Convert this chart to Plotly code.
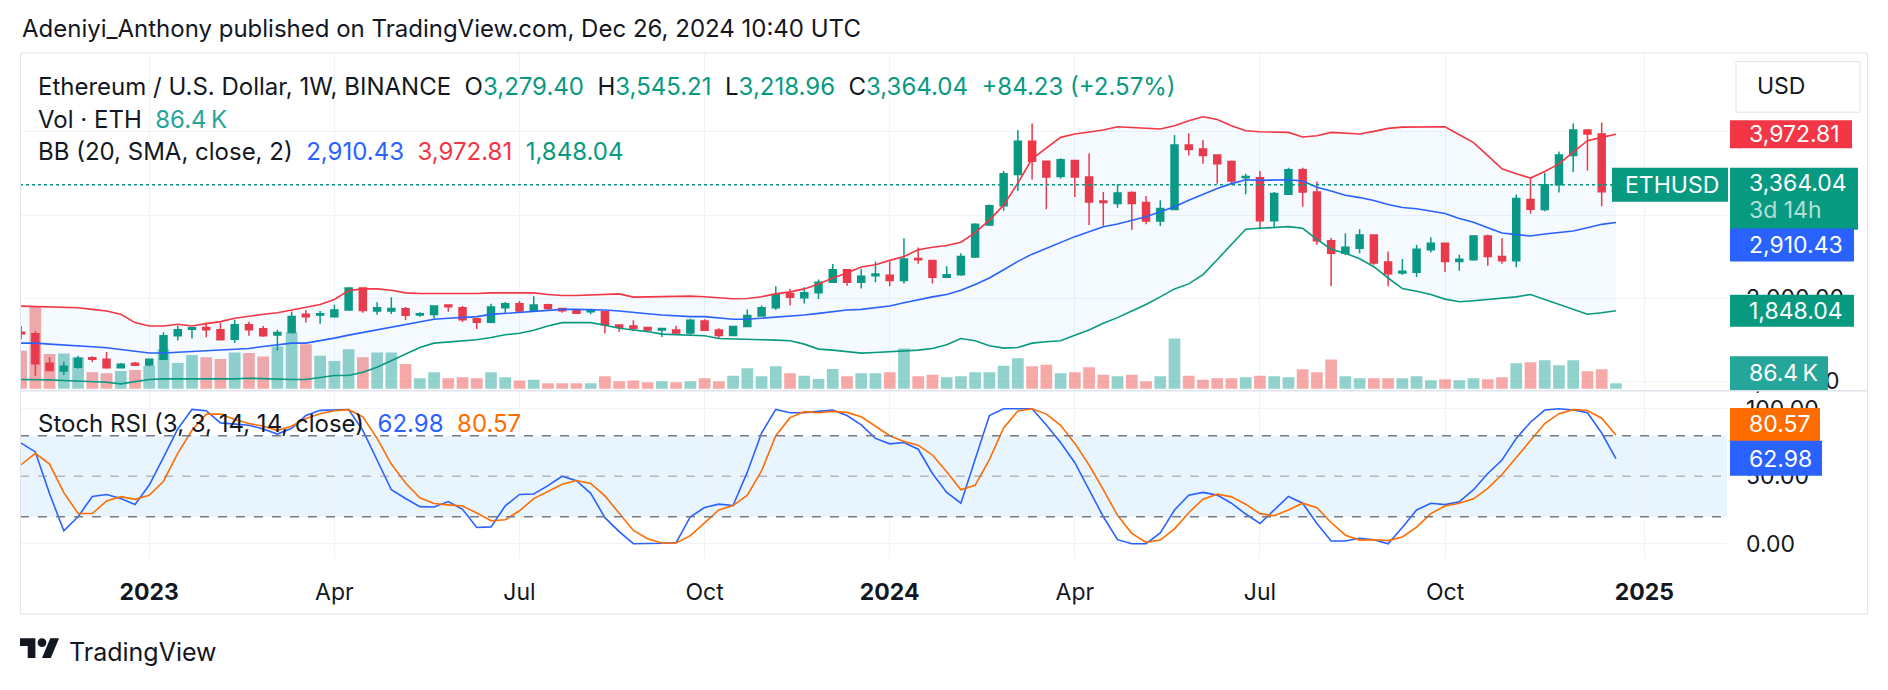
import plotly.graph_objects as go
import pandas as pd

W, H = 1888, 690
FONT = "Inter"
TXT = "#131722"
UP, DN = "#089981", "#f23645"
VOL_UP, VOL_DN = "rgba(38,166,154,0.5)", "rgba(239,83,80,0.5)"
BLUE, ORANGE = "#2962ff", "#ff6d00"

# ---------------- data (weekly) ----------------
dates = pd.date_range("2022-10-31", periods=113, freq="7D")

opens = [1590, 1572, 1215, 1122, 1168, 1282, 1265, 1162, 1215, 1195,
         1265, 1548, 1626, 1645, 1620, 1505, 1678, 1632, 1555, 1586,
         1805, 1796, 1776, 1857, 2123, 1845, 1845, 1872, 1796, 1804,
         1916, 1884, 1752, 1708, 1884, 1932, 1844, 1920, 1876, 1856,
         1835, 1836, 1677, 1665, 1645, 1615, 1617, 1580, 1725, 1617,
         1550, 1657, 1785, 1884, 2055, 2003, 2063, 2191, 2342, 2191,
         2270, 2274, 2211, 2478, 2454, 2250, 2282, 2494, 2880, 3111,
         3489, 3887, 3648, 3465, 3656, 3457, 3170, 3139, 3270, 3150,
         2928, 3067, 3843, 3796, 3724, 3644, 3449, 3449, 2932, 3250,
         3545, 3278, 2689, 2541, 2601, 2760, 2434, 2302, 2310, 2581,
         2661, 2442, 2462, 2748, 2501, 2450, 3186, 3067, 3366, 3716,
         4023, 3975, 3279.40]
highs = [1665, 1600, 1287, 1235, 1307, 1300, 1350, 1220, 1230, 1272,
         1590, 1666, 1648, 1705, 1700, 1740, 1715, 1665, 1618, 1838,
         1857, 1845, 1920, 2130, 2130, 1950, 2010, 1892, 1830, 1910,
         1918, 1904, 1765, 1932, 1952, 1964, 2023, 1932, 1884, 1864,
         1872, 1844, 1685, 1733, 1652, 1640, 1665, 1753, 1745, 1637,
         1665, 1864, 1912, 2143, 2111, 2131, 2223, 2410, 2350, 2350,
         2442, 2442, 2720, 2609, 2462, 2382, 2541, 2900, 3127, 3529,
         4023, 4102, 3656, 3684, 3660, 3744, 3278, 3370, 3286, 3230,
         3178, 3963, 3983, 3903, 3724, 3656, 3497, 3529, 3278, 3569,
         3569, 3405, 2728, 2780, 2828, 2765, 2561, 2470, 2641, 2732,
         2665, 2521, 2760, 2765, 2720, 3246, 3437, 3509, 3764, 4106,
         4030, 4114, 3545.21]
lows = [1505, 1065, 1120, 1075, 1150, 1230, 1150, 1155, 1185, 1180,
        1262, 1490, 1514, 1530, 1490, 1460, 1546, 1535, 1368, 1575,
        1705, 1690, 1765, 1850, 1824, 1800, 1810, 1735, 1776, 1755,
        1836, 1713, 1627, 1697, 1816, 1820, 1836, 1852, 1825, 1808,
        1805, 1577, 1595, 1605, 1605, 1533, 1560, 1557, 1605, 1520,
        1540, 1653, 1777, 1856, 1912, 1936, 1990, 2183, 2150, 2115,
        2191, 2143, 2175, 2414, 2175, 2242, 2270, 2482, 2868, 3051,
        3290, 3429, 3071, 3437, 3218, 2880, 2872, 3087, 2820, 2888,
        2868, 3059, 3716, 3616, 3378, 3370, 3250, 2828, 2840, 3240,
        3099, 2641, 2143, 2520, 2541, 2402, 2143, 2282, 2254, 2549,
        2314, 2330, 2450, 2390, 2414, 2370, 3019, 3047, 3270, 3517,
        3537, 3107, 3218.96]
closes = [1572, 1210, 1130, 1180, 1275, 1264, 1162, 1205, 1193, 1265,
          1548, 1620, 1644, 1620, 1500, 1678, 1618, 1548, 1586, 1778,
          1776, 1812, 1857, 2123, 1850, 1884, 1876, 1795, 1812, 1904,
          1896, 1740, 1708, 1892, 1932, 1844, 1916, 1876, 1848, 1818,
          1860, 1680, 1648, 1637, 1617, 1633, 1580, 1733, 1613, 1550,
          1657, 1792, 1884, 2043, 2011, 2063, 2191, 2342, 2191, 2262,
          2290, 2211, 2470, 2462, 2250, 2282, 2502, 2888, 3111, 3497,
          3887, 3648, 3457, 3664, 3457, 3158, 3150, 3266, 3139, 2928,
          3079, 3843, 3788, 3716, 3616, 3409, 3465, 2932, 3258, 3545,
          3278, 2689, 2541, 2613, 2760, 2422, 2294, 2322, 2589, 2661,
          2442, 2469, 2748, 2501, 2450, 3198, 3071, 3366, 3724, 4023,
          3975, 3279.81, 3364.04]
volume_k = [582, 1266, 532, 543, 482, 254, 239, 274, 289, 354,
            608, 395, 517, 482, 456, 558, 547, 497, 649, 871,
            684, 506, 426, 608, 482, 558, 558, 380, 163, 254,
            163, 178, 163, 254, 178, 126, 141, 87, 87, 87,
            87, 193, 117, 126, 102, 117, 102, 117, 163, 117,
            202, 315, 193, 345, 239, 202, 152, 304, 193, 239,
            239, 254, 619, 193, 217, 178, 193, 254, 254, 354,
            467, 345, 369, 239, 254, 330, 217, 193, 217, 117,
            193, 771, 202, 141, 163, 163, 178, 202, 193, 178,
            299, 254, 451, 193, 163, 163, 163, 163, 193, 132,
            147, 132, 163, 147, 178, 391, 406, 436, 360, 436,
            269, 299, 86.4]
bb_upper = [1904, 1900, 1896, 1892, 1884, 1864, 1844, 1805, 1705, 1665,
            1665, 1685, 1665, 1693, 1717, 1757, 1785, 1805, 1824, 1856,
            1892, 1924, 1984, 2091, 2111, 2111, 2095, 2063, 2055, 2055,
            2051, 2051, 2055, 2063, 2063, 2071, 2063, 2043, 2031, 2031,
            2035, 2043, 2051, 2012, 2016, 2024, 2024, 2024, 2016, 2004,
            1992, 1996, 2016, 2051, 2075, 2111, 2171, 2242, 2302, 2374,
            2402, 2454, 2501, 2581, 2613, 2633, 2673, 2788, 2939, 3119,
            3386, 3676, 3808, 3935, 3975, 4003, 4023, 4063, 4055, 4047,
            4035, 4074, 4134, 4182, 4150, 4074, 4015, 4003, 4003, 3995,
            3940, 3955, 3995, 3987, 3975, 4007, 4043, 4058, 4062, 4062,
            4062, 3967, 3871, 3716, 3557, 3497, 3445, 3525, 3616, 3756,
            3895, 3935, 3972.81]
bb_basis = [1458, 1458, 1446, 1438, 1426, 1414, 1402, 1378, 1354, 1339,
            1339, 1347, 1354, 1366, 1374, 1386, 1394, 1418, 1438, 1458,
            1458, 1486, 1518, 1554, 1586, 1617, 1653, 1685, 1713, 1745,
            1757, 1765, 1777, 1804, 1816, 1824, 1836, 1852, 1864, 1864,
            1864, 1856, 1844, 1824, 1812, 1797, 1785, 1777, 1777, 1761,
            1745, 1745, 1757, 1765, 1777, 1797, 1816, 1836, 1856, 1864,
            1884, 1904, 1944, 1984, 2015, 2043, 2095, 2163, 2242, 2342,
            2442, 2529, 2601, 2669, 2740, 2800, 2860, 2892, 2939, 2979,
            3039, 3099, 3178, 3250, 3318, 3378, 3425, 3417, 3425, 3425,
            3409, 3334, 3290, 3238, 3210, 3174, 3127, 3091, 3075, 3051,
            3019, 2959, 2912, 2848, 2784, 2764, 2748, 2772, 2788, 2808,
            2848, 2888, 2910.43]
bb_lower = [1020, 1020, 1016, 1008, 1004, 996, 988, 968, 996, 1020,
            1028, 1028, 1028, 1028, 1024, 1028, 1036, 1028, 1020, 1020,
            1020, 1040, 1068, 1068, 1107, 1167, 1247, 1327, 1406, 1458,
            1474, 1486, 1498, 1526, 1558, 1577, 1613, 1665, 1705, 1705,
            1705, 1673, 1637, 1617, 1597, 1566, 1558, 1554, 1546, 1514,
            1506, 1506, 1498, 1494, 1486, 1446, 1386, 1374, 1358, 1338,
            1346, 1354, 1358, 1374, 1394, 1438, 1514, 1486, 1426, 1398,
            1406, 1458, 1474, 1486, 1554, 1617, 1697, 1765, 1844, 1924,
            2015, 2111, 2171, 2282, 2462, 2641, 2828, 2840, 2848, 2860,
            2840, 2708, 2589, 2541, 2473, 2378, 2242, 2115, 2083, 2043,
            1988, 1956, 1968, 1984, 1996, 2015, 2043, 1984, 1924, 1864,
            1805, 1824, 1848.04]
stoch_k = [74.5, 68, 37, 9.5, 20, 35, 36.5, 33.5, 29, 43.5,
           64, 85, 99.5, 98.5, 89.5, 88.5, 87.8, 85, 81.2, 85.5,
           95, 98.8, 99.2, 99.4, 84, 62.5, 40, 33.5, 27.5, 27.2,
           31.2, 25.5, 12, 12.5, 28, 36.5, 36.8, 43, 50, 46.7,
           37.3, 19.3, 9, 0, 0, 0.3, 0.8, 20, 26.8, 29.3,
           28.3, 53, 82, 99.5, 97, 97, 98, 99, 95, 88,
           78, 74, 75, 70, 52, 38, 30, 62, 95, 100,
           100, 100, 88, 75, 60, 40, 20, 3, 0, 0,
           8, 25, 36, 38, 36, 30, 22, 15, 25, 35,
           30, 15, 2, 2, 4, 3, 0, 12, 25, 30,
           29, 31, 40, 52, 62, 78, 90, 99, 100, 99,
           97, 82, 62.98]
stoch_d = [58.5, 67, 59, 37.8, 22.5, 22.4, 31.7, 34.9, 32.9, 35.9,
           46.3, 67, 84, 96, 96, 92, 89, 87, 84, 87,
           92.7, 96.3, 98.5, 99.3, 94, 78, 59, 45, 34, 29.8,
           28.8, 28, 22.7, 17, 17.8, 24.4, 33.4, 39, 44, 46.8,
           44.6, 35.4, 22.4, 9.8, 3.7, 0.5, 0.5, 6, 15.4, 25,
           28.3, 36, 54, 80, 93.4, 97.8, 97, 98, 97.3, 94,
           87, 80, 75.7, 73, 65.7, 53.3, 40, 43.3, 62.3, 85.7,
           98.3, 100, 96, 87.7, 74.3, 58.3, 40, 21, 7.7, 1,
           2.7, 11, 23, 33, 36.7, 34.7, 29.3, 22.3, 20.7, 25,
           30, 26.7, 15.7, 6.3, 2.7, 3, 2.3, 5, 12.3, 22.3,
           28, 30, 33.3, 41, 51.3, 64, 76.7, 89, 96.3, 99.3,
           98.7, 93, 80.57]

tick_dates = ["2023-01-02", "2023-04-03", "2023-07-03", "2023-10-02", "2024-01-01",
              "2024-04-01", "2024-07-01", "2024-09-30", "2025-01-06"]
tick_text = ["<b>2023</b>", "Apr", "Jul", "Oct", "<b>2024</b>", "Apr", "Jul", "Oct", "<b>2025</b>"]
price_ticks = [1000, 2000, 3000, 4000]
stoch_ticks = [0, 50, 100]
stoch_levels = [80, 50, 20]

# ---------------- geometry helpers ----------------
def X(p):
    return p / W

def Y(p):
    return 1 - p / H

PL, PR = 20, 1727
MAIN_T, MAIN_B = 53, 393
ST_T, ST_B = 393, 563
x_range = [dates[0] - pd.Timedelta(hours=13), dates[-1] + pd.Timedelta(days=54.6)]
PRICE_RANGE = [892, 4955]
VOL_RANGE = [-20, 5148]
STOCH_RANGE = [-11.25, 113.75]

fig = go.Figure()

vol_colors = [VOL_UP if c >= o else VOL_DN for o, c in zip(opens, closes)]
fig.add_trace(go.Bar(x=dates, y=volume_k, marker=dict(color=vol_colors, line=dict(width=0)),
                     width=5.75 * 86400000, xaxis="x", yaxis="y", hoverinfo="skip"))

fig.add_trace(go.Scatter(x=dates, y=bb_upper, mode="lines", line=dict(width=0, color="rgba(0,0,0,0)"),
                         xaxis="x", yaxis="y2", hoverinfo="skip"))
fig.add_trace(go.Scatter(x=dates, y=bb_lower, mode="lines", line=dict(width=0, color="rgba(0,0,0,0)"),
                         fill="tonexty", fillcolor="rgba(33,150,243,0.05)",
                         xaxis="x", yaxis="y2", hoverinfo="skip"))

fig.add_trace(go.Candlestick(x=dates, open=opens, high=highs, low=lows, close=closes,
                             increasing=dict(line=dict(color=UP, width=1.5), fillcolor=UP),
                             decreasing=dict(line=dict(color=DN, width=1.5), fillcolor=DN),
                             whiskerwidth=0, xaxis="x", yaxis="y2", hoverinfo="skip"))

for vals, col in ((bb_upper, DN), (bb_basis, BLUE), (bb_lower, UP)):
    fig.add_trace(go.Scatter(x=dates, y=vals, mode="lines", line=dict(color=col, width=1.6),
                             xaxis="x", yaxis="y2", hoverinfo="skip"))

fig.add_trace(go.Scatter(x=dates, y=stoch_k, mode="lines", line=dict(color=BLUE, width=1.6),
                         xaxis="x2", yaxis="y3", hoverinfo="skip"))
fig.add_trace(go.Scatter(x=dates, y=stoch_d, mode="lines", line=dict(color=ORANGE, width=1.6),
                         xaxis="x2", yaxis="y3", hoverinfo="skip"))

GRID = "#f0f3fa"
axis_font = dict(family=FONT, size=23, color=TXT)
fig.update_layout(
    width=W, height=H, margin=dict(l=0, r=0, t=0, b=0), autosize=False,
    paper_bgcolor="white", plot_bgcolor="white", showlegend=False, hovermode=False,
    font=dict(family=FONT, size=23, color=TXT),
    xaxis=dict(domain=[X(PL), X(PR)], anchor="y", range=x_range, type="date",
               tickvals=tick_dates, showticklabels=False, showgrid=True, gridcolor=GRID,
               zeroline=False, showline=False, rangeslider=dict(visible=False), fixedrange=True),
    xaxis2=dict(domain=[X(PL), X(PR)], anchor="y3", range=x_range, type="date", matches="x",
                tickvals=tick_dates, ticktext=tick_text, showticklabels=True, tickfont=axis_font,
                ticks="", ticklabelstandoff=17, showgrid=True, gridcolor=GRID,
                zeroline=False, showline=False, rangeslider=dict(visible=False)),
    yaxis=dict(domain=[Y(MAIN_B), Y(MAIN_T)], anchor="x", range=VOL_RANGE, visible=False,
               showgrid=False, zeroline=False),
    yaxis2=dict(overlaying="y", anchor="x", side="right", range=PRICE_RANGE,
                tickvals=price_ticks, tickformat=",.2f", tickfont=axis_font, ticks="",
                ticklabelstandoff=18, showgrid=True, gridcolor=GRID, zeroline=False, showline=False),
    yaxis3=dict(domain=[Y(ST_B), Y(ST_T)], anchor="x2", side="right", range=STOCH_RANGE,
                tickvals=stoch_ticks, tickformat=".2f", tickfont=axis_font, ticks="",
                ticklabelstandoff=18, showgrid=True, gridcolor=GRID, zeroline=False, showline=False),
)

shapes = []
# stoch band and levels
shapes.append(dict(type="rect", xref="x2 domain", yref="y3", x0=0, x1=1,
                   y0=stoch_levels[2], y1=stoch_levels[0], fillcolor="rgba(33,150,243,0.1)",
                   line=dict(width=0), layer="below"))
for lv in stoch_levels:
    shapes.append(dict(type="line", xref="x2 domain", yref="y3", x0=0, x1=1, y0=lv, y1=lv,
                       line=dict(color="#787b86" if lv != 50 else "rgba(120,123,134,0.5)",
                                 width=1.5, dash="dash")))
# price line
shapes.append(dict(type="line", xref="x domain", yref="y2", x0=0, x1=1,
                   y0=closes[-1], y1=closes[-1], line=dict(color=UP, width=1.5, dash="dot")))
# frame + separator
shapes.append(dict(type="rect", xref="paper", yref="paper", x0=X(20.5), x1=X(1867.5),
                   y0=Y(618.5), y1=Y(53.5), line=dict(color="#e0e3eb", width=1)))
shapes.append(dict(type="line", xref="paper", yref="paper", x0=X(20), x1=X(1868),
                   y0=Y(393.5), y1=Y(393.5), line=dict(color="#e0e3eb", width=1.5)))
# USD box
shapes.append(dict(type="rect", xref="paper", yref="paper", x0=X(1736), x1=X(1860),
                   y0=Y(113), y1=Y(62), fillcolor="white", line=dict(color="#e0e3eb", width=1)))

def label_box(yref, value, x0, x1, below, above, color):
    shapes.append(dict(type="rect", xref="paper", yref=yref, ysizemode="pixel", yanchor=value,
                       x0=X(x0), x1=X(x1), y0=-below, y1=above, fillcolor=color,
                       line=dict(width=0)))

label_box("y2", bb_upper[-1], 1730, 1852, 14, 14, DN)
label_box("y2", closes[-1], 1730, 1858, 45, 17, UP)
label_box("y2", closes[-1], 1612, 1728, 17, 17, UP)
label_box("y2", bb_basis[-1], 1730, 1854, 39, -6, BLUE)
label_box("y2", bb_lower[-1], 1730, 1854, 16, 16, UP)
label_box("y", volume_k[-1], 1730, 1828, 7, 27, "#26a69a")
label_box("y3", stoch_d[-1], 1730, 1820, 6, 27, ORANGE)
label_box("y3", stoch_k[-1], 1730, 1822, 17, 18, BLUE)

# TradingView logo
def lp(u, v):
    return f"{X(20 + 1.1 * u):.6f},{Y(638.6 + 1.1 * v):.6f}"

shapes.append(dict(type="path", xref="paper", yref="paper",
                   path=f"M{lp(0,4)} L{lp(14,4)} L{lp(14,22)} L{lp(7,22)} L{lp(7,11)} L{lp(0,11)} Z",
                   fillcolor=TXT, line=dict(width=0)))
shapes.append(dict(type="path", xref="paper", yref="paper",
                   path=f"M{lp(20,22)} L{lp(28,22)} L{lp(35.5,4)} L{lp(27.5,4)} Z",
                   fillcolor=TXT, line=dict(width=0)))
shapes.append(dict(type="circle", xref="paper", yref="paper",
                   x0=X(20 + 1.1 * 16), x1=X(20 + 1.1 * 24), y0=Y(638.6 + 1.1 * 12), y1=Y(638.6 + 1.1 * 4),
                   fillcolor=TXT, line=dict(width=0)))
fig.update_layout(shapes=shapes)

ann = []
def text(x, y, s, size=23, color=TXT, xanchor="left", yref="paper", yshift=0, xref="paper"):
    ann.append(dict(x=x, y=y, xref=xref, yref=yref, text=s, showarrow=False, xanchor=xanchor,
                    yanchor="middle", yshift=yshift, font=dict(family=FONT, size=size, color=color)))

def col(s, c):
    return f'<span style="color:{c}">{s}</span>'

GAP = "\u00a0\u00a0"
LS = 24
chg = closes[-1] - closes[-2]
pct = chg / closes[-2] * 100
text(X(20), Y(29), "Adeniyi_Anthony published on TradingView.com, Dec 26, 2024 10:40 UTC", size=LS)
text(X(36), Y(87), "Ethereum / U.S. Dollar, 1W, BINANCE" + GAP +
     "O" + col(f"{opens[-1]:,.2f}", UP) + GAP + "H" + col(f"{highs[-1]:,.2f}", UP) + GAP +
     "L" + col(f"{lows[-1]:,.2f}", UP) + GAP + "C" + col(f"{closes[-1]:,.2f}", UP) + GAP +
     col(f"{chg:+.2f} ({pct:+.2f}%)", UP), size=LS)
text(X(36), Y(120), "Vol · ETH" + GAP + col(f"{volume_k[-1]:.1f}\u2009K", "#26a69a"), size=LS)
text(X(36), Y(153), "BB (20, SMA, close, 2)" + GAP + col(f"{bb_basis[-1]:,.2f}", BLUE) + GAP +
     col(f"{bb_upper[-1]:,.2f}", DN) + GAP + col(f"{bb_lower[-1]:,.2f}", UP), size=LS)
text(X(36), Y(427), "Stoch RSI (3, 3, 14, 14, close)" + GAP + col(f"{stoch_k[-1]:.2f}", BLUE) + GAP +
     col(f"{stoch_d[-1]:.2f}", ORANGE), size=LS)

# axis labels
text(X(1747), bb_upper[-1], f"{bb_upper[-1]:,.2f}", color="white", yref="y2")
text(X(1747), closes[-1], f"{closes[-1]:,.2f}", color="white", yref="y2", yshift=2)
text(X(1747), closes[-1], "3d 14h", color="rgba(255,255,255,0.7)", yref="y2", yshift=-25)
text(X(1623), closes[-1], "ETHUSD", color="white", yref="y2")
text(X(1747), bb_basis[-1], f"{bb_basis[-1]:,.2f}", color="white", yref="y2", yshift=-22.5)
text(X(1747), bb_lower[-1], f"{bb_lower[-1]:,.2f}", color="white", yref="y2")
text(X(1747), volume_k[-1], f"{volume_k[-1]:.1f}\u2009K", color="white", yref="y", yshift=10)
text(X(1747), stoch_d[-1], f"{stoch_d[-1]:.2f}", color="white", yref="y3", yshift=10.5)
text(X(1747), stoch_k[-1], f"{stoch_k[-1]:.2f}", color="white", yref="y3")
text(X(1755), Y(87), "USD")
text(X(67), Y(657), "TradingView", size=25)
fig.update_layout(annotations=ann)

fig.write_html("out.html")
